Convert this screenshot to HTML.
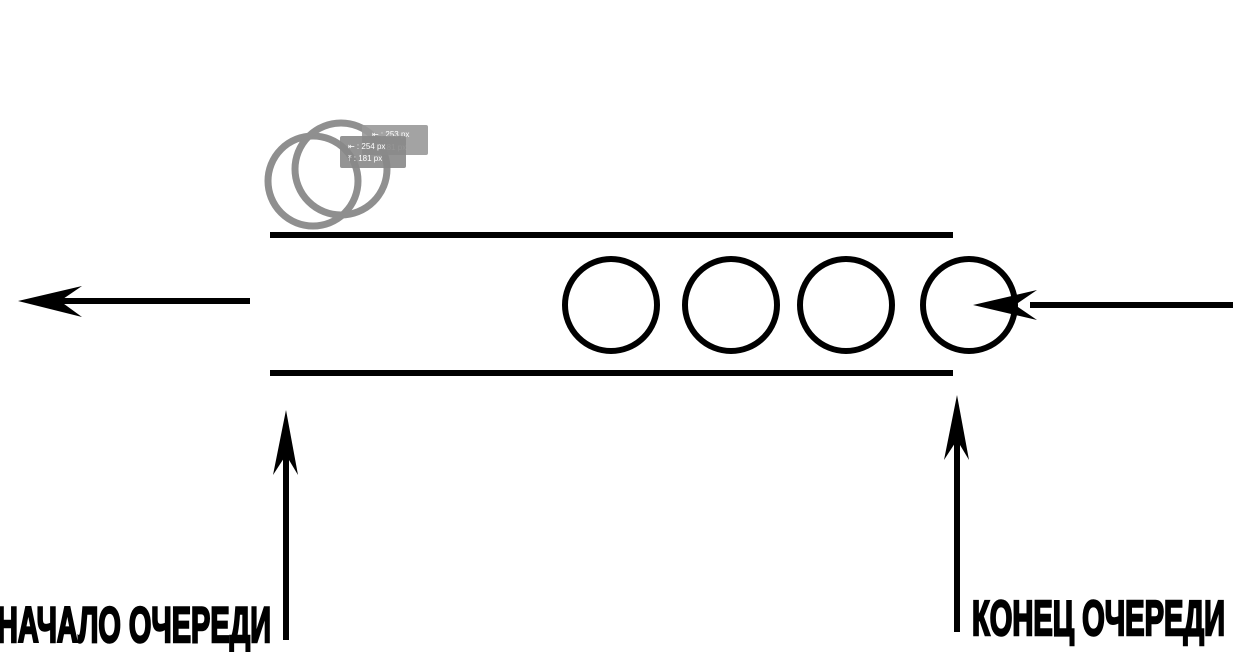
<!DOCTYPE html>
<html><head><meta charset="utf-8">
<style>html,body{margin:0;padding:0;background:#fff;width:1233px;height:652px;overflow:hidden}</style>
</head><body>
<svg width="1233" height="652" viewBox="0 0 1233 652" xmlns="http://www.w3.org/2000/svg">
  <g fill="none" stroke="#8a8a8a" stroke-width="7" opacity="0.95">
    <circle cx="313" cy="181" r="45"/>
    <circle cx="341" cy="169" r="46"/>
  </g>
  <g font-family="Liberation Sans, sans-serif" font-size="8" fill="#fff">
    <rect x="362" y="125" width="66" height="30" rx="2" fill="#999" opacity="0.9"/>
    <text x="372" y="137">⇤ : 253 px</text>
    <text x="372" y="150">⤒ : 181 px</text>
    <rect x="340" y="136" width="66" height="32" rx="2" fill="#888" opacity="0.9"/>
    <text x="348" y="149">⇤ : 254 px</text>
    <text x="348" y="161">⤒ : 181 px</text>
  </g>
  <g stroke="#000" stroke-width="6">
    <line x1="270" y1="235" x2="953" y2="235"/>
    <line x1="270" y1="373" x2="953" y2="373"/>
  </g>
  <g fill="none" stroke="#000" stroke-width="6">
    <circle cx="611" cy="305" r="46"/>
    <circle cx="731" cy="305" r="46"/>
    <circle cx="846" cy="305" r="46"/>
    <circle cx="969" cy="305" r="46"/>
  </g>
  <g>
    <line x1="250" y1="301" x2="50" y2="301" stroke="#000" stroke-width="6"/>
    <polygon points="18,301 82,286 60,301 82,317" fill="#000"/>
  </g>
  <g>
    <line x1="1233" y1="305" x2="1030" y2="305" stroke="#000" stroke-width="6"/>
    <polygon points="973,305 1037,290 1015,305 1037,320" fill="#000"/>
  </g>
  <g>
    <line x1="286" y1="640" x2="286" y2="440" stroke="#000" stroke-width="6"/>
    <polygon points="286,410 298,475 286,455 273,475" fill="#000"/>
  </g>
  <g>
    <line x1="957" y1="632" x2="957" y2="425" stroke="#000" stroke-width="6"/>
    <polygon points="957,395 969,460 957,440 944,460" fill="#000"/>
  </g>
  <text x="-3" y="642" font-family="Liberation Sans, DejaVu Sans, sans-serif" font-weight="bold" font-size="50" stroke="#000" stroke-width="2.5" textLength="274" lengthAdjust="spacingAndGlyphs" fill="#000">НАЧАЛО ОЧЕРЕДИ</text>
  <text x="972" y="635" font-family="Liberation Sans, DejaVu Sans, sans-serif" font-weight="bold" font-size="49" stroke="#000" stroke-width="2.5" textLength="253" lengthAdjust="spacingAndGlyphs" fill="#000">КОНЕЦ ОЧЕРЕДИ</text>
</svg>
</body></html>
